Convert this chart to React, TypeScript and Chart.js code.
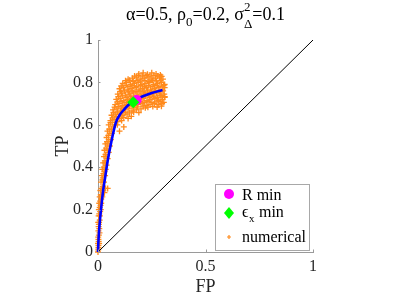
import React, { useEffect, useRef } from 'react';
import { Chart, registerables } from 'chart.js';

Chart.register(...registerables);

const xTickValues = [0, 0.5, 1];
const xTickLabels = ['0', '0.5', '1'];
const yTickValues = [0, 0.2, 0.4, 0.6, 0.8, 1];
const yTickLabels = ['0', '0.2', '0.4', '0.6', '0.8', '1'];

const rocFP = [0, 0.002, 0.005, 0.01, 0.016, 0.024, 0.033, 0.045, 0.06, 0.083, 0.1, 0.121, 0.14, 0.159, 0.19, 0.215, 0.25, 0.3];
const rocTP = [0, 0.05, 0.1, 0.16, 0.22, 0.29, 0.35, 0.43, 0.51, 0.61, 0.645, 0.672, 0.692, 0.708, 0.726, 0.737, 0.75, 0.764];

const diagFP = [0, 1];
const diagTP = [0, 1];

const rMinPoint = [0.18, 0.717];
const epsMinPoint = [0.164, 0.706];

const numericalLower: number[][] = [
  [0, 0], [0.001, 0.01], [0.002, 0.03], [0, 0.04], [0.003, 0.05], [0.001, 0.07], [0.004, 0.08], [0.002, 0.1],
  [0.006, 0.11], [0.003, 0.12], [0.001, 0.14], [0.005, 0.14], [0.008, 0.15], [0.003, 0.17], [0.006, 0.18],
  [0.01, 0.19], [0.004, 0.2], [0.008, 0.21], [0.012, 0.22], [0.006, 0.23], [0.01, 0.24], [0.015, 0.25],
  [0.008, 0.26], [0.013, 0.27], [0.018, 0.27], [0.011, 0.29], [0.016, 0.3], [0.022, 0.31], [0.03, 0.28], [0.035, 0.3],
  [0.002, 0.02], [0.005, 0.04], [0.002, 0.06], [0.007, 0.09], [0.004, 0.13], [0.009, 0.17], [0.013, 0.2],
  [0.015, 0.23], [0.02, 0.26], [0.024, 0.29],
];

const numericalMiddle: number[][] = [
  [0.014, 0.33], [0.02, 0.34], [0.028, 0.33], [0.045, 0.3], [0.018, 0.36], [0.025, 0.37], [0.033, 0.36],
  [0.02, 0.39], [0.028, 0.4], [0.036, 0.39], [0.024, 0.42], [0.032, 0.43], [0.04, 0.41], [0.028, 0.45],
  [0.035, 0.46], [0.045, 0.44], [0.03, 0.48], [0.038, 0.49], [0.05, 0.47], [0.034, 0.51], [0.042, 0.52],
  [0.055, 0.5], [0.04, 0.54], [0.048, 0.55], [0.06, 0.53], [0.044, 0.57], [0.052, 0.58], [0.065, 0.56],
  [0.05, 0.6], [0.058, 0.61], [0.07, 0.59], [0.1, 0.57], [0.12, 0.59], [0.09, 0.6],
  [0.022, 0.35], [0.03, 0.38], [0.034, 0.42], [0.038, 0.45], [0.043, 0.48], [0.046, 0.51], [0.05, 0.53],
  [0.055, 0.56], [0.062, 0.58], [0.066, 0.61], [0.08, 0.6],
];

const numericalUpper: number[][] = [
  [0.058, 0.62], [0.075, 0.625], [0.092, 0.615], [0.11, 0.62],
  [0.068, 0.633], [0.085, 0.638], [0.102, 0.63], [0.12, 0.635], [0.14, 0.63],
  [0.063, 0.645], [0.08, 0.65], [0.097, 0.64], [0.115, 0.645], [0.135, 0.65], [0.155, 0.64],
  [0.072, 0.658], [0.09, 0.66], [0.108, 0.655], [0.127, 0.66], [0.146, 0.656], [0.166, 0.66], [0.19, 0.658],
  [0.07, 0.67], [0.088, 0.675], [0.105, 0.665], [0.122, 0.67], [0.14, 0.675], [0.158, 0.665], [0.178, 0.67], [0.2, 0.675], [0.22, 0.68],
  [0.077, 0.683], [0.094, 0.686], [0.11, 0.68], [0.128, 0.684], [0.146, 0.688], [0.164, 0.68], [0.183, 0.685], [0.21, 0.688],
  [0.232, 0.683], [0.255, 0.686], [0.275, 0.684], [0.295, 0.688],
  [0.08, 0.695], [0.098, 0.7], [0.115, 0.69], [0.132, 0.695], [0.15, 0.7], [0.168, 0.69], [0.186, 0.695], [0.205, 0.7],
  [0.224, 0.69], [0.242, 0.695], [0.262, 0.7], [0.28, 0.695], [0.298, 0.7],
  [0.09, 0.708], [0.107, 0.71], [0.125, 0.705], [0.143, 0.71], [0.18, 0.706], [0.197, 0.71], [0.215, 0.706], [0.233, 0.71],
  [0.251, 0.705], [0.27, 0.708], [0.289, 0.71], [0.306, 0.706],
  [0.085, 0.72], [0.103, 0.725], [0.12, 0.715], [0.138, 0.72], [0.156, 0.725], [0.174, 0.715], [0.192, 0.72], [0.21, 0.725],
  [0.228, 0.715], [0.246, 0.72], [0.264, 0.725], [0.282, 0.715], [0.3, 0.72], [0.31, 0.73],
  [0.095, 0.733], [0.113, 0.736], [0.131, 0.73], [0.15, 0.735], [0.168, 0.73], [0.186, 0.735], [0.204, 0.73], [0.222, 0.737],
  [0.24, 0.73], [0.258, 0.735], [0.276, 0.73], [0.294, 0.737], [0.31, 0.733],
  [0.092, 0.745], [0.11, 0.75], [0.128, 0.74], [0.146, 0.745], [0.164, 0.75], [0.182, 0.74], [0.2, 0.745], [0.218, 0.75],
  [0.236, 0.74], [0.254, 0.745], [0.272, 0.75], [0.29, 0.74], [0.308, 0.745],
  [0.105, 0.758], [0.123, 0.76], [0.141, 0.755], [0.159, 0.76], [0.177, 0.756], [0.195, 0.76], [0.213, 0.755], [0.231, 0.76],
  [0.249, 0.756], [0.267, 0.76], [0.285, 0.755], [0.303, 0.76],
  [0.1, 0.77], [0.118, 0.775], [0.136, 0.765], [0.154, 0.77], [0.172, 0.775], [0.19, 0.765], [0.208, 0.77], [0.226, 0.775],
  [0.244, 0.765], [0.262, 0.77], [0.28, 0.775], [0.298, 0.765], [0.31, 0.775],
  [0.108, 0.783], [0.126, 0.786], [0.144, 0.78], [0.162, 0.785], [0.18, 0.78], [0.198, 0.786], [0.216, 0.78], [0.234, 0.785],
  [0.252, 0.78], [0.27, 0.786], [0.288, 0.78], [0.305, 0.785],
  [0.115, 0.795], [0.133, 0.8], [0.151, 0.79], [0.169, 0.795], [0.187, 0.8], [0.205, 0.79], [0.223, 0.795], [0.241, 0.8],
  [0.259, 0.79], [0.277, 0.795], [0.295, 0.8], [0.31, 0.79],
  [0.128, 0.808], [0.146, 0.81], [0.164, 0.805], [0.182, 0.81], [0.2, 0.806], [0.218, 0.81], [0.236, 0.805], [0.254, 0.81],
  [0.272, 0.806], [0.29, 0.81],
  [0.14, 0.815], [0.16, 0.82], [0.178, 0.825], [0.196, 0.815], [0.214, 0.82], [0.232, 0.825], [0.25, 0.815], [0.268, 0.82],
  [0.286, 0.825], [0.302, 0.815],
  [0.17, 0.83], [0.188, 0.833], [0.206, 0.83], [0.224, 0.833], [0.242, 0.83], [0.26, 0.833], [0.278, 0.83], [0.296, 0.828],
  [0.19, 0.84], [0.21, 0.845], [0.23, 0.838], [0.25, 0.845], [0.27, 0.84], [0.29, 0.835],
];

const SERIF = '"Liberation Serif", "Times New Roman", serif';
const TEXT = '#262626';
const AXIS = '#9a9a9a';
const ORANGE = '#ff8a1c';

const decorPlugin = {
  id: 'decor',
  afterDraw(chart: any) {
    const ctx = chart.ctx as CanvasRenderingContext2D;
    const xs = chart.scales.x;
    const ys = chart.scales.y;
    const ca = chart.chartArea;
    ctx.save();
    ctx.strokeStyle = AXIS;
    ctx.lineWidth = 1;
    xTickValues.forEach((v) => {
      const px = Math.round(xs.getPixelForValue(v)) + 0.5;
      ctx.beginPath();
      ctx.moveTo(px, ca.bottom);
      ctx.lineTo(px, ca.bottom - 2.5);
      ctx.stroke();
    });
    yTickValues.forEach((v) => {
      const py = Math.round(ys.getPixelForValue(v)) + 0.5;
      ctx.beginPath();
      ctx.moveTo(ca.left, py);
      ctx.lineTo(ca.left + 2.5, py);
      ctx.stroke();
    });

    // title
    const cx = (ca.left + ca.right) / 2;
    const big = `18px ${SERIF}`;
    const small = `13px ${SERIF}`;
    const segs: any[] = [
      { t: 'α=0.5, ρ', f: big, dy: 0 },
      { t: '0', f: small, dy: 6 },
      { t: '=0.2, σ', f: big, dy: 0 },
      { sup: '2', sub: 'Δ' },
      { t: '=0.1', f: big, dy: 0 },
    ];
    let total = 0;
    const widths = segs.map((s) => {
      let w;
      if (s.sup) {
        ctx.font = small;
        w = Math.max(ctx.measureText(s.sup).width, ctx.measureText(s.sub).width);
      } else {
        ctx.font = s.f;
        w = ctx.measureText(s.t).width;
      }
      total += w;
      return w;
    });
    let x = cx - total / 2;
    const base = 20;
    ctx.fillStyle = '#000';
    ctx.textAlign = 'left';
    ctx.textBaseline = 'alphabetic';
    segs.forEach((s, i) => {
      if (s.sup) {
        ctx.font = small;
        ctx.fillText(s.sup, x, base - 9.5);
        ctx.fillText(s.sub, x, base + 7.5);
      } else {
        ctx.font = s.f;
        ctx.fillText(s.t, x, base + s.dy);
      }
      x += widths[i];
    });

    // axis labels
    ctx.font = `18px ${SERIF}`;
    ctx.fillStyle = TEXT;
    ctx.textAlign = 'center';
    ctx.textBaseline = 'middle';
    ctx.fillText('FP', cx, 287);
    ctx.save();
    ctx.translate(63, (ca.top + ca.bottom) / 2);
    ctx.rotate(-Math.PI / 2);
    ctx.fillText('TP', 0, 0);
    ctx.restore();

    // legend
    const lx = 215.5, ly = 184.5, lw = 94, lh = 66;
    ctx.fillStyle = '#fff';
    ctx.fillRect(lx, ly, lw, lh);
    ctx.strokeStyle = '#a8a8a8';
    ctx.lineWidth = 1;
    ctx.strokeRect(lx, ly, lw, lh);
    const mx = 229;
    const tx = 242;
    ctx.font = `16px ${SERIF}`;
    ctx.textAlign = 'left';
    ctx.textBaseline = 'alphabetic';
    ctx.fillStyle = '#ff00ff';
    ctx.beginPath();
    ctx.arc(mx, 194, 5, 0, Math.PI * 2);
    ctx.fill();
    ctx.fillStyle = '#000';
    ctx.fillText('R min', tx, 199.5);
    ctx.fillStyle = '#00ff00';
    ctx.beginPath();
    ctx.moveTo(mx, 207);
    ctx.lineTo(mx + 5, 213);
    ctx.lineTo(mx, 219);
    ctx.lineTo(mx - 5, 213);
    ctx.closePath();
    ctx.fill();
    ctx.fillStyle = '#000';
    ctx.fillText('ϵ', tx, 217);
    const ew = ctx.measureText('ϵ').width;
    ctx.font = `11px ${SERIF}`;
    ctx.fillText('x', tx + ew + 0.5, 222);
    const xw = ctx.measureText('x').width;
    ctx.font = `16px ${SERIF}`;
    ctx.fillText(' min', tx + ew + xw + 1, 217);
    ctx.strokeStyle = ORANGE;
    ctx.lineWidth = 1.2;
    ctx.beginPath();
    ctx.moveTo(mx - 2, 237);
    ctx.lineTo(mx + 2, 237);
    ctx.moveTo(mx, 235);
    ctx.lineTo(mx, 239);
    ctx.stroke();
    ctx.fillStyle = '#000';
    ctx.fillText('numerical', tx, 242);
    ctx.restore();
  },
};

export default function App() {
  const ref = useRef<HTMLCanvasElement | null>(null);
  useEffect(() => {
    if (!ref.current) return;
    const tickFont = { family: SERIF, size: 16 };
    const numerical = [...numericalLower, ...numericalMiddle, ...numericalUpper];
    const chart = new Chart(ref.current, {
      type: 'scatter',
      data: {
        datasets: [
          {
            label: 'numerical',
            data: numerical.map((p) => ({ x: p[0], y: p[1] })),
            pointStyle: 'cross',
            pointRadius: 3,
            borderColor: ORANGE,
            backgroundColor: ORANGE,
            borderWidth: 1.3,
            showLine: false,
            clip: false,
            order: 5,
          } as any,
          {
            label: 'diag',
            data: diagFP.map((v, i) => ({ x: v, y: diagTP[i] })),
            showLine: true,
            borderColor: '#000',
            borderWidth: 1,
            pointRadius: 0,
            order: 4,
          },
          {
            label: 'roc',
            data: rocFP.map((v, i) => ({ x: v, y: rocTP[i] })),
            showLine: true,
            borderColor: '#0000ff',
            borderWidth: 2.6,
            pointRadius: 0,
            cubicInterpolationMode: 'monotone',
            clip: false,
            order: 3,
          } as any,
          {
            label: 'R min',
            data: [{ x: rMinPoint[0], y: rMinPoint[1] }],
            pointStyle: 'circle',
            pointRadius: 5,
            backgroundColor: '#ff00ff',
            borderColor: '#ff00ff',
            borderWidth: 0,
            order: 2,
          },
          {
            label: 'eps min',
            data: [{ x: epsMinPoint[0], y: epsMinPoint[1] }],
            pointStyle: 'rectRot',
            pointRadius: 6,
            backgroundColor: '#00ff00',
            borderColor: '#00ff00',
            borderWidth: 0,
            order: 1,
          },
        ],
      },
      options: {
        animation: false,
        responsive: false,
        events: [],
        layout: { padding: { left: 0, top: 40, right: 86, bottom: 0 } },
        plugins: { legend: { display: false }, tooltip: { enabled: false }, title: { display: false } },
        scales: {
          x: {
            type: 'linear',
            min: 0,
            max: 1,
            afterBuildTicks: (s: any) => { s.ticks = xTickValues.map((v) => ({ value: v })); },
            afterFit: (s: any) => { s.height = 47; },
            grid: { display: false, drawTicks: false },
            border: { display: true, color: AXIS, width: 1 },
            ticks: {
              font: tickFont,
              color: TEXT,
              padding: 5,
              maxRotation: 0,
              callback: (v: any) => { const i = xTickValues.indexOf(Number(v)); return i >= 0 ? xTickLabels[i] : ''; },
            },
          },
          y: {
            type: 'linear',
            min: 0,
            max: 1,
            afterBuildTicks: (s: any) => { s.ticks = yTickValues.map((v) => ({ value: v })); },
            afterFit: (s: any) => { s.width = 98; },
            grid: { display: false, drawTicks: false },
            border: { display: true, color: AXIS, width: 1 },
            ticks: {
              font: tickFont,
              color: TEXT,
              padding: 5,
              callback: (v: any) => { const i = yTickValues.findIndex((t) => Math.abs(t - Number(v)) < 1e-9); return i >= 0 ? yTickLabels[i] : ''; },
            },
          },
        },
      } as any,
      plugins: [decorPlugin],
    });
    return () => chart.destroy();
  }, []);
  return (
    <div style={{ position: 'fixed', left: 0, top: 0, width: 399, height: 299, background: '#fff' }}>
      <canvas ref={ref} width={399} height={299} style={{ width: 399, height: 299, display: 'block' }} />
    </div>
  );
}
